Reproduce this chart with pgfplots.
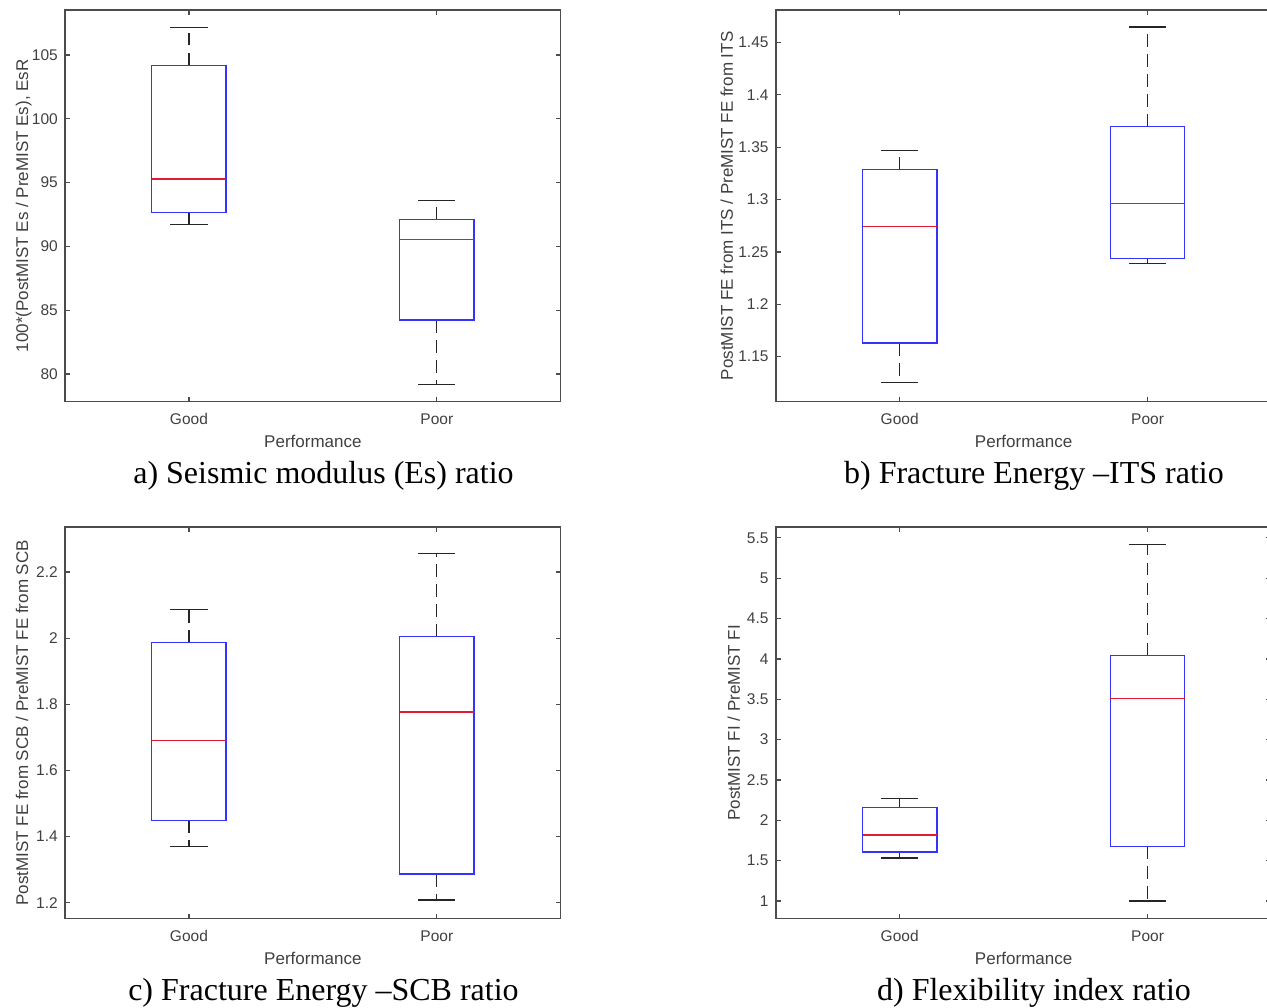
\documentclass[border=0pt]{standalone}
\usepackage{fontspec}
\setmainfont{Liberation Serif}
\newfontfamily\sans{Liberation Sans}
\usepackage{pgfplots}
\pgfplotsset{compat=1.18}
\usepgfplotslibrary{statistics}

\newcommand{\ticks}{\sans\fontsize{6.2}{7}\selectfont}
\newcommand{\labs}{\sans\fontsize{6.8}{8}\selectfont}
\newcommand{\capt}{\fontsize{12.8}{14}\selectfont}
\definecolor{mlblue}{rgb}{0.2,0.2,1}
\definecolor{mlred}{rgb}{0.9,0.1,0.2}

\pgfplotsset{
  boxplot/draw direction=y,
  boxplot/draw/lower whisker/.code={%
    \draw[black!85, line width=0.55pt, dash pattern=on 5pt off 3pt]
      (boxplot box cs:\pgfplotsboxplotvalue{lower quartile},0.5) --
      (boxplot box cs:\pgfplotsboxplotvalue{lower whisker},0.5);
    \draw[black!85, line width=0.55pt]
      (boxplot whisker cs:\pgfplotsboxplotvalue{lower whisker},0) --
      (boxplot whisker cs:\pgfplotsboxplotvalue{lower whisker},1);
  },
  boxplot/draw/upper whisker/.code={%
    \draw[black!85, line width=0.55pt, dash pattern=on 5pt off 3pt]
      (boxplot box cs:\pgfplotsboxplotvalue{upper quartile},0.5) --
      (boxplot box cs:\pgfplotsboxplotvalue{upper whisker},0.5);
    \draw[black!85, line width=0.55pt]
      (boxplot whisker cs:\pgfplotsboxplotvalue{upper whisker},0) --
      (boxplot whisker cs:\pgfplotsboxplotvalue{upper whisker},1);
  },
  boxplot/draw/median/.code={%
    \draw[mlred, line width=0.55pt]
      (boxplot box cs:\pgfplotsboxplotvalue{median},0) --
      (boxplot box cs:\pgfplotsboxplotvalue{median},1);
  },
  boxplot/box extend=0.3,
  boxplot/whisker extend=0.15,
  mlaxis/.style={
    width=198.3pt, height=156.7pt, scale only axis,
    anchor=south west,
    xmin=0.5, xmax=2.5,
    xtick={1,2}, xticklabels={Good,Poor},
    tick align=inside, major tick length=2pt,
    axis line style={draw=black!70, line width=0.6pt},
    every tick/.style={draw=black!70, line width=0.5pt},
    tick label style={font=\ticks, text=black!75},
    /pgf/number format/assume math mode=true,
    scaled y ticks=false,
    xticklabel style={anchor=base, yshift=-9pt, inner sep=0pt},
    yticklabel style={anchor=east, xshift=-2.7pt, inner sep=0pt},
    label style={font=\labs, text=black!75},
    xlabel={Performance},
    xlabel style={at={(axis description cs:0.5,0)}, anchor=base, yshift=-18.3pt},
  },
}

\newcommand{\mlbox}[6]{%
  \addplot[mlblue, line width=0.55pt, boxplot prepared={draw position=#1,
    lower whisker=#2, lower quartile=#3, median=#4,
    upper quartile=#5, upper whisker=#6}] coordinates {};}

\begin{document}
\begin{tikzpicture}
\useasboundingbox (0,0) rectangle (506.8pt,402.8pt);
\clip (0,0) rectangle (506.8pt,402.8pt);

% a) seismic modulus ratio
\begin{axis}[mlaxis, at={(26pt,242.12pt)},
  ymin=77.83, ymax=108.53, ytick={80,85,90,95,100,105},
  ylabel={100*(PostMIST Es / PreMIST Es), EsR},
  ylabel style={at={(axis description cs:-0.0744,0.5)}, anchor=base}]
\mlbox{1}{91.73}{92.64}{95.28}{104.19}{107.17}
\mlbox{2}{79.19}{84.23}{90.53}{92.10}{93.58}
\end{axis}
\node[anchor=base, font=\capt] at (129.4pt,209.6pt) {a) Seismic modulus (Es) ratio};

% b) fracture energy ITS ratio
\begin{axis}[mlaxis, at={(310.3pt,242.12pt)},
  ymin=1.107, ymax=1.481, ytick={1.15,1.2,1.25,1.3,1.35,1.4,1.45},
  ylabel={PostMIST FE from ITS / PreMIST FE from ITS},
  ylabel style={at={(axis description cs:-0.0867,0.5)}, anchor=base}]
\mlbox{1}{1.1255}{1.163}{1.2744}{1.3288}{1.3469}
\mlbox{2}{1.239}{1.2438}{1.296}{1.3695}{1.4646}
\end{axis}
\node[anchor=base, font=\capt] at (413.6pt,209.6pt) {b) Fracture Energy –ITS ratio};

% c) fracture energy SCB ratio
\begin{axis}[mlaxis, at={(26pt,35.32pt)},
  ymin=1.152, ymax=2.336, ytick={1.2,1.4,1.6,1.8,2,2.2},
  ylabel={PostMIST FE from SCB / PreMIST FE from SCB},
  ylabel style={at={(axis description cs:-0.0746,0.5)}, anchor=base}]
\mlbox{1}{1.370}{1.4497}{1.6914}{1.9865}{2.086}
\mlbox{2}{1.208}{1.2866}{1.777}{2.0046}{2.2564}
\end{axis}
\node[anchor=base, font=\capt] at (129.4pt,2.8pt) {c) Fracture Energy –SCB ratio};

% d) flexibility index ratio
\begin{axis}[mlaxis, at={(310.3pt,35.32pt)},
  ymin=0.781, ymax=5.635, ytick={1,1.5,2,2.5,3,3.5,4,4.5,5,5.5},
  ylabel={PostMIST FI / PreMIST FI},
  ylabel style={at={(axis description cs:-0.0726,0.5)}, anchor=base}]
\mlbox{1}{1.532}{1.607}{1.817}{2.156}{2.271}
\mlbox{2}{1.0}{1.677}{3.506}{4.043}{5.42}
\end{axis}
\node[anchor=base, font=\capt] at (413.6pt,2.8pt) {d) Flexibility index ratio};
\end{tikzpicture}
\end{document}
